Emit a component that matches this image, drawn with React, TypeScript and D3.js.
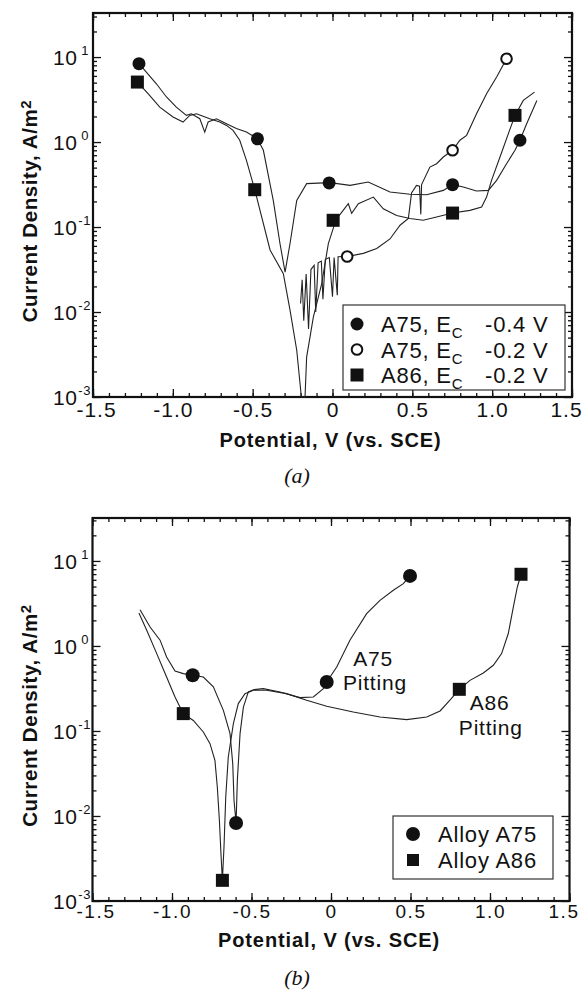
import React, { useEffect, useRef } from 'react';
import * as d3 from 'd3';

type Pt = [number, number];

// (a) potential (V vs. SCE) vs current density (A/m2)
const a75Ec04Curve: Pt[] = [
  [-1.212, 8.36], [-1.166, 6.67], [-1.103, 4.85], [-1.04, 3.39], [-0.978, 2.57], [-0.915, 2.06],
  [-0.884, 2.15], [-0.831, 1.88], [-0.8, 1.31], [-0.779, 1.72], [-0.727, 1.88], [-0.664, 1.64],
  [-0.602, 1.44], [-0.539, 1.31], [-0.47, 1.09], [-0.433, 0.8], [-0.371, 0.206], [-0.329, 0.064],
  [-0.297, 0.0295], [-0.266, 0.064], [-0.224, 0.206], [-0.162, 0.324], [-0.016, 0.333], [0.11, 0.309],
  [0.224, 0.339], [0.36, 0.258], [0.485, 0.243], [0.589, 0.24], [0.694, 0.27], [0.752, 0.315],
  [0.819, 0.296], [0.902, 0.265], [0.976, 0.27], [1.028, 0.354], [1.09, 0.556], [1.143, 0.8],
  [1.174, 1.05], [1.216, 1.64], [1.28, 3.09],
];
const a75Ec02Curve: Pt[] = [
  [-0.2, 0.0126], [-0.19, 0.024], [-0.18, 0.0079], [-0.165, 0.028], [-0.15, 0.0063], [-0.135, 0.0316],
  [-0.115, 0.0355], [-0.105, 0.01], [-0.09, 0.038], [-0.07, 0.0398], [-0.06, 0.0141], [-0.045, 0.0417],
  [-0.02, 0.0437], [0.0, 0.0151], [0.01, 0.0437], [0.03, 0.0158], [0.035, 0.0447], [0.099, 0.0452],
  [0.193, 0.049], [0.277, 0.056], [0.36, 0.0724], [0.423, 0.105], [0.475, 0.126], [0.495, 0.251],
  [0.526, 0.309], [0.545, 0.302], [0.553, 0.141], [0.558, 0.316], [0.61, 0.508], [0.652, 0.556],
  [0.694, 0.667], [0.752, 0.8], [0.798, 1.05], [0.84, 1.2], [0.902, 2.15], [0.965, 3.71],
  [1.028, 5.82], [1.09, 9.55],
];
const a86Ec02Curve: Pt[] = [
  [-1.222, 5.08], [-1.155, 3.71], [-1.082, 2.58], [-0.999, 1.97], [-0.936, 1.72], [-0.894, 2.06],
  [-0.852, 2.15], [-0.769, 1.88], [-0.706, 1.72], [-0.664, 1.57], [-0.623, 1.37], [-0.581, 1.05],
  [-0.539, 0.608], [-0.487, 0.275], [-0.391, 0.0537], [-0.308, 0.0282], [-0.266, 0.0105], [-0.224, 0.00355],
  [-0.195, 0.001], [-0.172, 0.001], [-0.162, 0.00295], [-0.12, 0.0087], [-0.068, 0.0214], [-0.026, 0.0638],
  [0.022, 0.122], [0.068, 0.158], [0.099, 0.188], [0.12, 0.145], [0.162, 0.188], [0.256, 0.225],
  [0.318, 0.164], [0.402, 0.137], [0.485, 0.126], [0.568, 0.12], [0.652, 0.131], [0.752, 0.146],
  [0.861, 0.157], [0.934, 0.172], [0.965, 0.225], [0.996, 0.354], [1.049, 0.667], [1.101, 1.25],
  [1.143, 2.06], [1.195, 3.09], [1.265, 3.87],
];
const a75Ec04Marks: Pt[] = [[-1.212, 8.36], [-0.47, 1.09], [-0.021, 0.33], [0.752, 0.315], [1.174, 1.05]];
const a75Ec02Marks: Pt[] = [[0.092, 0.045], [0.752, 0.8], [1.09, 9.55]];
const a86Ec02Marks: Pt[] = [[-1.222, 5.08], [-0.487, 0.275], [0.004, 0.12], [0.752, 0.146], [1.143, 2.06]];

// (b)
const alloyA75Curve: Pt[] = [
  [-1.201, 2.67], [-1.138, 1.67], [-1.075, 1.17], [-1.034, 0.743], [-0.981, 0.508], [-0.929, 0.473],
  [-0.87, 0.452], [-0.803, 0.431], [-0.74, 0.33], [-0.677, 0.175], [-0.635, 0.0931], [-0.618, 0.0413],
  [-0.61, 0.0153], [-0.597, 0.00828], [-0.589, 0.0263], [-0.572, 0.0931], [-0.551, 0.191], [-0.52, 0.288],
  [-0.488, 0.306], [-0.426, 0.315], [-0.321, 0.288], [-0.195, 0.247], [-0.111, 0.251], [-0.048, 0.315],
  [-0.027, 0.377], [0.036, 0.566], [0.119, 1.17], [0.224, 2.4], [0.308, 3.44], [0.392, 4.52],
  [0.455, 5.41], [0.497, 6.67],
];
const alloyA86Curve: Pt[] = [
  [-1.208, 2.44], [-1.159, 1.53], [-1.096, 0.813], [-1.034, 0.431], [-0.981, 0.251], [-0.95, 0.191],
  [-0.929, 0.16], [-0.866, 0.133], [-0.803, 0.0973], [-0.761, 0.071], [-0.73, 0.0452], [-0.715, 0.0219],
  [-0.702, 0.00889], [-0.692, 0.0036], [-0.683, 0.00175], [-0.673, 0.00432], [-0.662, 0.0167], [-0.646, 0.0494],
  [-0.614, 0.122], [-0.583, 0.21], [-0.541, 0.275], [-0.488, 0.301], [-0.405, 0.301], [-0.279, 0.275],
  [-0.153, 0.23], [-0.027, 0.195], [0.14, 0.167], [0.308, 0.146], [0.476, 0.136], [0.602, 0.146],
  [0.686, 0.172], [0.748, 0.23], [0.807, 0.309], [0.874, 0.394], [0.958, 0.481], [1.021, 0.593],
  [1.073, 0.813], [1.115, 1.4], [1.147, 2.88], [1.172, 4.94], [1.195, 6.97],
];
const alloyA75Marks: Pt[] = [[-0.87, 0.452], [-0.597, 0.00828], [-0.027, 0.377], [0.497, 6.67]];
const alloyA86Marks: Pt[] = [[-0.929, 0.16], [-0.683, 0.00175], [0.807, 0.309], [1.195, 6.97]];

const xMajorTicks = [-1.5, -1.0, -0.5, 0, 0.5, 1.0, 1.5];
const xTickLabels = ['-1.5', '-1.0', '-0.5', '0', '0.5', '1.0', '1.5'];
const yDecades = [1, 0, -1, -2, -3];

const legendANames = ['A75, E', 'A75, E', 'A86, E'];
const legendAPotentials = ['-0.4 V', '-0.2 V', '-0.2 V'];
const legendBNames = ['Alloy A75', 'Alloy A86'];
// pitting notes: two lines each, anchored at [potential, current density]
const pittingNotes: { lines: string[]; at: Pt[] }[] = [
  { lines: ['A75', 'Pitting'], at: [[0.14, 0.58], [0.075, 0.305]] },
  { lines: ['A86', 'Pitting'], at: [[0.873, 0.176], [0.804, 0.09]] },
];

const SANS = "'Liberation Sans', Arial, Helvetica, sans-serif";
const SERIF = "'Liberation Serif', 'Times New Roman', serif";

type Marker = 'dot' | 'ring' | 'square';

function drawMarks(g: any, pts: Pt[], kind: Marker, x: any, y: any, size = 13) {
  if (kind === 'square') {
    g.selectAll(null).data(pts).join('rect')
      .attr('x', (d: Pt) => x(d[0]) - size / 2).attr('y', (d: Pt) => y(d[1]) - size / 2)
      .attr('width', size).attr('height', size).attr('fill', '#111');
  } else {
    g.selectAll(null).data(pts).join('circle')
      .attr('cx', (d: Pt) => x(d[0])).attr('cy', (d: Pt) => y(d[1]))
      .attr('r', kind === 'dot' ? size / 2 : size / 2 - 1.2)
      .attr('fill', kind === 'dot' ? '#111' : '#fff')
      .attr('stroke', '#111').attr('stroke-width', kind === 'dot' ? 0 : 2);
  }
}

function drawPanel(svg: any, p: any) {
  const x = d3.scaleLinear().domain([-1.5, 1.5]).range([p.left, p.right]);
  const y = d3.scaleLog().domain([1e-3, p.yMax]).range([p.bottom, p.top]);
  const g = svg.append('g');

  const minorX = d3.range(-15, 16).map(i => i / 10);
  const minorY: number[] = [];
  yDecades.forEach(e => d3.range(2, 10).forEach(m => { const v = m * Math.pow(10, e); if (v <= p.yMax) minorY.push(v); }));
  const majorY = yDecades.map(e => Math.pow(10, e));

  const tickStyle = (sel: any) => { sel.select('.domain').remove(); sel.selectAll('line').attr('stroke', '#111').attr('stroke-width', 1.3); };

  g.append('g').attr('transform', `translate(0,${p.bottom})`).call(d3.axisBottom(x).tickValues(minorX).tickSize(-4).tickFormat(() => '')).call(tickStyle);
  g.append('g').attr('transform', `translate(0,${p.top})`).call(d3.axisTop(x).tickValues(minorX).tickSize(-4).tickFormat(() => '')).call(tickStyle);
  g.append('g').attr('transform', `translate(0,${p.top})`).call(d3.axisTop(x).tickValues(xMajorTicks).tickSize(-8).tickFormat(() => '')).call(tickStyle);
  const xb = g.append('g').attr('transform', `translate(0,${p.bottom})`)
    .call(d3.axisBottom(x).tickValues(xMajorTicks).tickSize(-8).tickPadding(p.xPad).tickFormat((_d: any, i: number) => xTickLabels[i]))
    .call(tickStyle);
  xb.selectAll('text').attr('font-family', SANS).attr('font-size', p.xFont).attr('letter-spacing', p.xSpacing).attr('fill', '#111')
    .attr('dx', (_d: any, i: number) => (i === 0 ? 3 : i === xMajorTicks.length - 1 ? -6 : 0));

  g.append('g').attr('transform', `translate(${p.left},0)`).call(d3.axisLeft(y).tickValues(minorY).tickSize(-4).tickFormat(() => '')).call(tickStyle);
  g.append('g').attr('transform', `translate(${p.left},0)`).call(d3.axisLeft(y).tickValues(majorY).tickSize(-8).tickFormat(() => '')).call(tickStyle);
  g.append('g').attr('transform', `translate(${p.right},0)`).call(d3.axisRight(y).tickValues(minorY).tickSize(-4).tickFormat(() => '')).call(tickStyle);
  g.append('g').attr('transform', `translate(${p.right},0)`).call(d3.axisRight(y).tickValues(majorY).tickSize(-8).tickFormat(() => '')).call(tickStyle);

  yDecades.forEach(e => {
    const t = g.append('text').attr('x', 53).attr('y', y(Math.pow(10, e)) + 8)
      .attr('font-family', SANS).attr('font-size', 21).attr('letter-spacing', 0.5).attr('fill', '#111');
    t.append('tspan').text('10');
    t.append('tspan').attr('font-size', 13).attr('dx', e >= 0 ? 4 : 1).attr('dy', -10).text(String(e));
  });

  g.append('rect').attr('x', p.left).attr('y', p.top).attr('width', p.right - p.left).attr('height', p.bottom - p.top)
    .attr('fill', 'none').attr('stroke', '#111').attr('stroke-width', 2.2);

  const line = d3.line<Pt>().x(d => x(d[0])).y(d => y(d[1]));
  p.series.forEach((s: any) => {
    g.append('path').datum(s.curve).attr('d', line).attr('fill', 'none').attr('stroke', '#222').attr('stroke-width', 1.1);
  });
  p.series.forEach((s: any) => drawMarks(g, s.marks, s.marker, x, y, s.size));

  // axis titles
  g.append('text').attr('x', (p.left + p.right) / 2 - 2).attr('y', p.xTitleY).attr('text-anchor', 'middle')
    .attr('font-family', SANS).attr('font-weight', 'bold').attr('font-size', 20).attr('letter-spacing', 0.9).attr('fill', '#111')
    .text('Potential, V (vs. SCE)');
  const yt = g.append('text').attr('transform', `translate(37,${(p.top + p.bottom) / 2 + 6}) rotate(-90)`).attr('text-anchor', 'middle')
    .attr('font-family', SANS).attr('font-weight', 'bold').attr('font-size', 20.5).attr('letter-spacing', 0.6).attr('fill', '#111');
  yt.append('tspan').text('Current Density, A/m');
  yt.append('tspan').attr('font-size', 15).attr('dy', -6).text('2');

  g.append('text').attr('x', 297).attr('y', p.captionY).attr('text-anchor', 'middle')
    .attr('font-family', SERIF).attr('font-style', 'italic').attr('font-size', 22).attr('fill', '#111').text(p.caption);

  return { g, x, y };
}

export default function App() {
  const ref = useRef<SVGSVGElement>(null);

  useEffect(() => {
    const svg = d3.select(ref.current);
    svg.selectAll('*').remove();

    // panel (a)
    drawPanel(svg, {
      left: 93, right: 572, top: 13, bottom: 397, yMax: 33,
      xPad: 5, xFont: 21, xSpacing: 1, xTitleY: 447, captionY: 483, caption: '(a)',
      series: [
        { curve: a75Ec04Curve, marks: a75Ec04Marks, marker: 'dot', size: 13 },
        { curve: a75Ec02Curve, marks: a75Ec02Marks, marker: 'ring', size: 13 },
        { curve: a86Ec02Curve, marks: a86Ec02Marks, marker: 'square', size: 13 },
      ],
    });
    const la = svg.append('g');
    la.append('rect').attr('x', 343).attr('y', 305).attr('width', 222).attr('height', 85)
      .attr('fill', '#fff').attr('stroke', '#333').attr('stroke-width', 1.2);
    const kindsA: Marker[] = ['dot', 'ring', 'square'];
    legendANames.forEach((name, i) => {
      const cy = 324 + i * 25.5;
      const ly = d3.scaleLinear().domain([0, 1]).range([cy, cy]);
      drawMarks(la, [[357, 0]], kindsA[i], (v: number) => v, ly, 13);
      const t = la.append('text').attr('x', 381).attr('y', cy + 8).attr('font-family', SANS).attr('font-size', 22)
        .attr('letter-spacing', 0.8).attr('fill', '#111');
      t.append('tspan').text(name);
      t.append('tspan').attr('font-size', 15).attr('dy', 6).text('C');
      t.append('tspan').attr('x', 485).attr('dy', -6).text(legendAPotentials[i]);
    });

    // panel (b)
    const pb = drawPanel(svg, {
      left: 92.5, right: 569.5, top: 518, bottom: 901, yMax: 32,
      xPad: 4, xFont: 19, xSpacing: 1.6, xTitleY: 947, captionY: 985, caption: '(b)',
      series: [
        { curve: alloyA75Curve, marks: alloyA75Marks, marker: 'dot', size: 14 },
        { curve: alloyA86Curve, marks: alloyA86Marks, marker: 'square', size: 13 },
      ],
    });
    pittingNotes.forEach(n => {
      n.lines.forEach((s, i) => {
        pb.g.append('text').attr('x', pb.x(n.at[i][0])).attr('y', pb.y(n.at[i][1]))
          .attr('font-family', SANS).attr('font-size', 21).attr('letter-spacing', 0.8).attr('fill', '#111').text(s);
      });
    });
    const lb = svg.append('g');
    lb.append('rect').attr('x', 393).attr('y', 816).attr('width', 160).attr('height', 63)
      .attr('fill', '#fff').attr('stroke', '#333').attr('stroke-width', 1.2);
    const kindsB: Marker[] = ['dot', 'square'];
    legendBNames.forEach((name, i) => {
      const cy = 834 + i * 26;
      const ly = d3.scaleLinear().domain([0, 1]).range([cy, cy]);
      drawMarks(lb, [[413, 0]], kindsB[i], (v: number) => v, ly, i === 0 ? 14 : 12);
      lb.append('text').attr('x', 438).attr('y', cy + 8).attr('font-family', SANS).attr('font-size', 22)
        .attr('letter-spacing', 0.8).attr('fill', '#111').text(name);
    });
  }, []);

  return (
    <svg ref={ref} width={586} height={992}
      style={{ position: 'absolute', left: 0, top: 0, display: 'block', background: '#fff' }} />
  );
}
